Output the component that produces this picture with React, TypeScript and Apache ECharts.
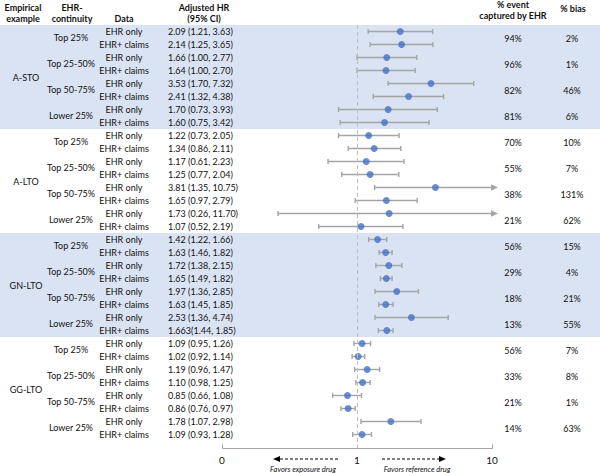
import React, { useEffect, useRef } from "react";
import * as echarts from "echarts";

const groups = ["A-STO", "A-LTO", "GN-LTO", "GG-LTO"];
const shadedGroups = [0, 2];
const subgroups = ["Top 25%", "Top 25-50%", "Top 50-75%", "Lower 25%"];
const dataTypes = ["EHR only", "EHR+ claims"];

const hr = [2.09, 2.14, 1.66, 1.64, 3.53, 2.41, 1.7, 1.6, 1.22, 1.34, 1.17, 1.25, 3.81, 1.65, 1.73, 1.07, 1.42, 1.63, 1.72, 1.65, 1.97, 1.63, 2.53, 1.663, 1.09, 1.02, 1.19, 1.1, 0.85, 0.86, 1.78, 1.09];
const lo = [1.21, 1.25, 1.0, 1.0, 1.7, 1.32, 0.73, 0.75, 0.73, 0.86, 0.61, 0.77, 1.35, 0.97, 0.26, 0.52, 1.22, 1.46, 1.38, 1.49, 1.36, 1.45, 1.36, 1.44, 0.95, 0.92, 0.96, 0.98, 0.66, 0.76, 1.07, 0.93];
const hi = [3.63, 3.65, 2.77, 2.7, 7.32, 4.38, 3.93, 3.42, 2.05, 2.11, 2.23, 2.04, 10.75, 2.79, 11.7, 2.19, 1.66, 1.82, 2.15, 1.82, 2.85, 1.85, 4.74, 1.85, 1.26, 1.14, 1.47, 1.25, 1.08, 0.97, 2.98, 1.28];
const hrText = [
  "2.09 (1.21, 3.63)", "2.14 (1.25, 3.65)", "1.66 (1.00, 2.77)", "1.64 (1.00, 2.70)",
  "3.53 (1.70, 7.32)", "2.41 (1.32, 4.38)", "1.70 (0.73, 3.93)", "1.60 (0.75, 3.42)",
  "1.22 (0.73, 2.05)", "1.34 (0.86, 2.11)", "1.17 (0.61, 2.23)", "1.25 (0.77, 2.04)",
  "3.81 (1.35, 10.75)", "1.65 (0.97, 2.79)", "1.73 (0.26, 11.70)", "1.07 (0.52, 2.19)",
  "1.42 (1.22, 1.66)", "1.63 (1.46, 1.82)", "1.72 (1.38, 2.15)", "1.65 (1.49, 1.82)",
  "1.97 (1.36, 2.85)", "1.63 (1.45, 1.85)", "2.53 (1.36, 4.74)", "1.663(1.44, 1.85)",
  "1.09 (0.95, 1.26)", "1.02 (0.92, 1.14)", "1.19 (0.96, 1.47)", "1.10 (0.98, 1.25)",
  "0.85 (0.66, 1.08)", "0.86 (0.76, 0.97)", "1.78 (1.07, 2.98)", "1.09 (0.93, 1.28)",
];
const eventPct = ["94%", "96%", "82%", "81%", "70%", "55%", "38%", "21%", "56%", "29%", "18%", "13%", "56%", "33%", "21%", "14%"];
const biasPct = ["2%", "1%", "46%", "6%", "10%", "7%", "131%", "62%", "15%", "4%", "21%", "55%", "7%", "8%", "1%", "63%"];
const xTicks = [0.1, 1, 10];
const xTickLabels = ["0", "1", "10"];

const AXIS_MIN = 0.1;
const AXIS_MAX = 10;
const FONT = "Lato, 'Open Sans', sans-serif";
const FS = 9;
const TXT = "#111";
const BLUE = "#4472c4";
const GREY = "#a5a5a5";

function txt(text: string, x: number, y: number, extra: any = {}) {
  const align = extra.align || "center";
  const va = extra.verticalAlign || "middle";
  return {
    type: "text",
    x,
    y,
    silent: true,
    style: {
      text,
      fill: TXT,
      fontSize: extra.fontSize || FS,
      fontFamily: FONT,
      fontWeight: extra.fontWeight || "normal",
      fontStyle: extra.fontStyle || "normal",
      align,
      textAlign: align,
      verticalAlign: va,
      textVerticalAlign: va,
    },
  };
}

export default function App() {
  const ref = useRef<HTMLDivElement>(null);
  useEffect(() => {
    if (!ref.current) return;
    const chart = echarts.init(ref.current, null, { renderer: "svg" });
    const nRows = hr.length;
    const rows = hr.map((v, i) => [v, i, lo[i], hi[i]]);

    const option: any = {
      animation: false,
      grid: { left: 222, width: 270, top: 25, height: 422.5 },
      xAxis: {
        type: "log",
        logBase: 10,
        min: AXIS_MIN,
        max: AXIS_MAX,
        position: "bottom",
        axisLine: { show: false, onZero: false },
        axisTick: { show: false },
        splitLine: { show: false },
        axisLabel: {
          color: TXT,
          fontSize: 10,
          fontFamily: FONT,
          margin: 7,
          formatter: (v: number) => {
            let best = 0;
            xTicks.forEach((t, k) => {
              if (Math.abs(Math.log10(t) - Math.log10(v)) < Math.abs(Math.log10(xTicks[best]) - Math.log10(v))) best = k;
            });
            return xTickLabels[best];
          },
        },
      },
      yAxis: { type: "value", inverse: true, min: -0.5, max: nRows, show: false },
      series: [
        {
          type: "custom",
          name: "bands",
          clip: false,
          z: 0,
          silent: true,
          data: shadedGroups.map((g) => [1, g]),
          encode: { x: 0, y: 1 },
          renderItem: (params: any, api: any) => {
            const g = api.value(1);
            const y0 = api.coord([1, g * 8 - 0.5])[1];
            const y1 = api.coord([1, g * 8 + 7.5])[1];
            return {
              type: "rect",
              shape: { x: 0, y: y0, width: api.getWidth(), height: y1 - y0 },
              style: { fill: "#dae3f3" },
            };
          },
        },
        {
          type: "scatter",
          name: "ref",
          data: [],
          silent: true,
          markLine: {
            silent: true,
            symbol: ["none", "none"],
            label: { show: false },
            lineStyle: { color: "#c0c0c0", type: [4, 3], width: 1 },
            data: [{ xAxis: 1 }],
          },
        },
        {
          type: "custom",
          name: "axisLine",
          clip: false,
          silent: true,
          z: 4,
          data: xTicks.map((t) => [t, nRows]),
          encode: { x: 0, y: 1 },
          renderItem: (params: any, api: any) => {
            const p = api.coord([api.value(0), api.value(1)]);
            const y = Math.round(p[1]) + 0.5;
            const x = Math.round(p[0]) + 0.5;
            const children: any[] = [
              { type: "line", shape: { x1: x, y1: y, x2: x, y2: y - 4 }, style: { stroke: GREY, lineWidth: 1 } },
            ];
            if (params.dataIndex === 0) {
              const pe = api.coord([AXIS_MAX, api.value(1)]);
              children.push({
                type: "line",
                shape: { x1: x, y1: y, x2: Math.round(pe[0]) + 0.5, y2: y },
                style: { stroke: GREY, lineWidth: 1 },
              });
            }
            return { type: "group", children };
          },
        },
        {
          type: "custom",
          name: "ci",
          clip: false,
          z: 2,
          silent: true,
          data: rows,
          encode: { x: [2, 3], y: 1 },
          renderItem: (params: any, api: any) => {
            const i = api.value(1);
            const l = api.value(2);
            const h = api.value(3);
            const p1 = api.coord([Math.max(l, AXIS_MIN), i]);
            const arrow = h > AXIS_MAX;
            const p2 = api.coord([Math.min(h, AXIS_MAX), i]);
            const y = p1[1];
            const ls = { stroke: GREY, lineWidth: 1.4 };
            const children: any[] = [
              { type: "line", shape: { x1: p1[0], y1: y, x2: p2[0], y2: y }, style: ls },
              { type: "line", shape: { x1: p1[0], y1: y - 2.6, x2: p1[0], y2: y + 2.6 }, style: ls },
            ];
            if (arrow) {
              children.push({
                type: "polygon",
                shape: { points: [[p2[0] - 1, y - 3.2], [p2[0] + 6, y], [p2[0] - 1, y + 3.2]] },
                style: { fill: GREY },
              });
            } else {
              children.push({ type: "line", shape: { x1: p2[0], y1: y - 2.6, x2: p2[0], y2: y + 2.6 }, style: ls });
            }
            return { type: "group", children };
          },
        },
        {
          type: "scatter",
          name: "hr",
          z: 3,
          silent: true,
          symbol: "circle",
          symbolSize: 7,
          itemStyle: { color: BLUE },
          data: rows.map((r) => [r[0], r[1]]),
        },
        {
          type: "custom",
          name: "rowText",
          clip: false,
          silent: true,
          data: hr.map((_, i) => [1, i]),
          encode: { x: 0, y: 1 },
          renderItem: (params: any, api: any) => {
            const i = api.value(1);
            const y = api.coord([1, i])[1];
            return {
              type: "group",
              children: [
                txt(dataTypes[i % 2], 124, y),
                txt(hrText[i], 168, y, { align: "left" }),
              ],
            };
          },
        },
        {
          type: "custom",
          name: "pairText",
          clip: false,
          silent: true,
          data: eventPct.map((_, p) => [1, p * 2 + 0.5]),
          encode: { x: 0, y: 1 },
          renderItem: (params: any, api: any) => {
            const p = params.dataIndex;
            const y = api.coord([1, api.value(1)])[1];
            return {
              type: "group",
              children: [
                txt(subgroups[p % 4], 71, y - 1),
                txt(eventPct[p], 513, y),
                txt(biasPct[p], 572, y),
              ],
            };
          },
        },
        {
          type: "custom",
          name: "groupText",
          clip: false,
          silent: true,
          data: groups.map((_, g) => [1, g * 8 + 3.5]),
          encode: { x: 0, y: 1 },
          renderItem: (params: any, api: any) => {
            const y = api.coord([1, api.value(1)])[1];
            return txt(groups[params.dataIndex], 26, y);
          },
        },
      ],
      graphic: [
        txt("Empirical", 23, 7, { fontWeight: "bold" }),
        txt("example", 23, 18, { fontWeight: "bold" }),
        txt("EHR-", 72, 7, { fontWeight: "bold" }),
        txt("continuity", 72, 18, { fontWeight: "bold" }),
        txt("Data", 124, 18, { fontWeight: "bold" }),
        txt("Adjusted HR", 204, 7, { fontWeight: "bold" }),
        txt("(95% CI)", 204, 18, { fontWeight: "bold" }),
        txt("% event", 513, 4, { fontWeight: "bold" }),
        txt("captured by EHR", 513, 15, { fontWeight: "bold" }),
        txt("% bias", 573, 8.5, { fontWeight: "bold" }),
        {
          type: "line",
          silent: true,
          shape: { x1: 280, y1: 459, x2: 338, y2: 459 },
          style: { stroke: "#000", lineWidth: 1.2, lineDash: [3, 2] },
        },
        {
          type: "polygon",
          silent: true,
          shape: { points: [[273, 459], [280, 456], [280, 462]] },
          style: { fill: "#000" },
        },
        {
          type: "line",
          silent: true,
          shape: { x1: 382, y1: 459, x2: 440, y2: 459 },
          style: { stroke: "#000", lineWidth: 1.2, lineDash: [3, 2] },
        },
        {
          type: "polygon",
          silent: true,
          shape: { points: [[446, 459], [439, 456], [439, 462]] },
          style: { fill: "#000" },
        },
        txt("Favors exposure drug", 303, 469, { fontStyle: "italic", fontSize: 7.5 }),
        txt("Favors reference drug", 417, 469, { fontStyle: "italic", fontSize: 7.5 }),
      ],
    };
    chart.setOption(option);
    return () => chart.dispose();
  }, []);
  return (
    <div
      ref={ref}
      style={{ position: "fixed", left: 0, top: 0, width: 600, height: 473, background: "#fff" }}
    />
  );
}
